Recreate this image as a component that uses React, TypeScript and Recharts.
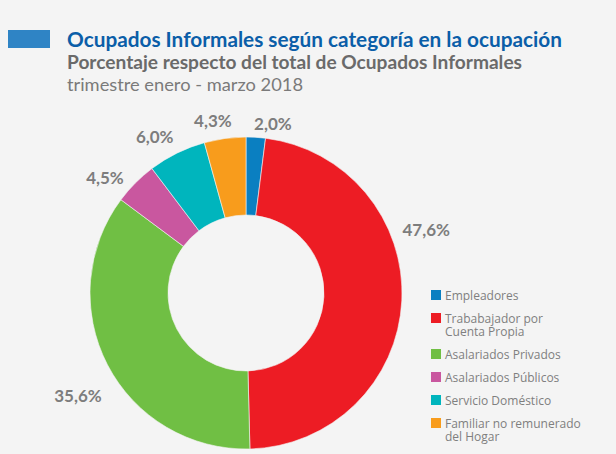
import { PieChart, Pie, Cell } from 'recharts'

const categories = [
  'Empleadores',
  'Trababajador por\nCuenta Propia',
  'Asalariados Privados',
  'Asalariados Públicos',
  'Servicio Doméstico',
  'Familiar no remunerado\ndel Hogar',
]
const shares = [2.0, 47.6, 35.6, 4.5, 6.0, 4.3]
const colors = ['#0a7fc1', '#ed1c24', '#70bf44', '#c9579f', '#00b5bd', '#f89c1c']

// label placement tweaks (degrees off the slice middle, px from centre)
const labelShift = [-5.4, 22.2, 4.1, 5.6, 4.0, 3.1]
const labelDist = [172, 191, 197, 182, 181, 176]

const BG = '#f4f4f4'
const RAD = Math.PI / 180

const data = categories.map((name, i) => ({ name, value: shares[i] }))

function renderLabel(props: any) {
  const { cx, cy, midAngle, index, value } = props
  const a = (midAngle + labelShift[index]) * RAD
  const r = labelDist[index]
  const x = cx + r * Math.cos(-a)
  const y = cy + r * Math.sin(-a)
  return (
    <text
      x={x}
      y={y}
      textAnchor="middle"
      dominantBaseline="central"
      fill="#7d7d7d"
      fontFamily="Lato"
      fontWeight={700}
      fontSize={17}
    >
      {value.toFixed(1).replace('.', ',') + '%'}
    </text>
  )
}

export default function App() {
  return (
    <div
      style={{
        position: 'absolute',
        left: 0,
        top: 0,
        width: 616,
        height: 454,
        background: BG,
        overflow: 'hidden',
        fontFamily: 'Lato, sans-serif',
      }}
    >
      <svg width={616} height={100} style={{ position: 'absolute', left: 0, top: 0 }}>
        <rect x={8} y={30} width={42} height={18} fill="#2f84c5" />
        <text x={67} y={47} fill="#0b5ea8" fontFamily="Lato" fontWeight={700} fontSize={20}
          textLength={495} lengthAdjust="spacingAndGlyphs">
          Ocupados Informales según categoría en la ocupación
        </text>
        <text x={67} y={69} fill="#6a6a6a" fontFamily="Lato" fontWeight={700} fontSize={18}
          textLength={455} lengthAdjust="spacingAndGlyphs">
          Porcentaje respecto del total de Ocupados Informales
        </text>
        <text x={67} y={91} fill="#7a7a7a" fontFamily="Lato" fontWeight={400} fontSize={18}
          textLength={236} lengthAdjust="spacingAndGlyphs">
          trimestre enero - marzo 2018
        </text>
      </svg>

      <div style={{ position: 'absolute', left: 0, top: 0 }}>
        <PieChart width={616} height={454} margin={{ top: 0, right: 0, bottom: 0, left: 0 }}>
          <Pie
            data={data}
            dataKey="value"
            nameKey="name"
            cx={246}
            cy={293}
            innerRadius={78}
            outerRadius={156}
            startAngle={90}
            endAngle={-270}
            stroke={BG}
            strokeWidth={0.6}
            label={renderLabel}
            labelLine={false}
            isAnimationActive={false}
          >
            {data.map((d, i) => (
              <Cell key={d.name} fill={colors[i]} />
            ))}
          </Pie>
        </PieChart>
      </div>

      <div
        style={{
          position: 'absolute',
          left: 431,
          top: 289,
          display: 'flex',
          flexDirection: 'column',
          gap: 10,
          fontFamily: '"Open Sans", sans-serif',
          fontSize: 12,
          lineHeight: '13px',
          color: '#7f7f7f',
        }}
      >
        {categories.map((c, i) => (
          <div key={c} style={{ display: 'flex', alignItems: 'flex-start' }}>
            <span
              style={{
                width: 10,
                height: 10,
                marginTop: 1,
                marginRight: 4,
                background: colors[i],
                flex: 'none',
              }}
            />
            <span style={{ whiteSpace: 'pre' }}>{c}</span>
          </div>
        ))}
      </div>
    </div>
  )
}
